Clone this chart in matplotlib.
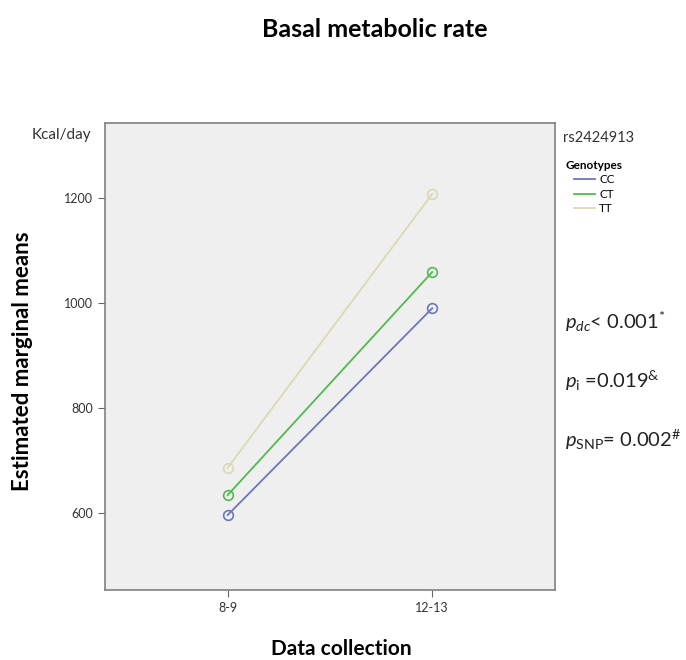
import matplotlib
matplotlib.use('Agg')
import matplotlib.pyplot as plt

# Data
periods = ['8-9', '12-13']
genotypes = ['CC', 'CT', 'TT']
bmr_cc = [596, 990]
bmr_ct = [634, 1059]
bmr_tt = [686, 1208]
colors = ['#6d76ba', '#4fbb4f', '#dcd9b4']
yticks = [600, 800, 1000, 1200]
pvals = [r'$p_{dc}$< 0.001$^{*}$', r'$p_{\mathrm{i}}$ =0.019$^{&}$', r'$p_{\mathrm{SNP}}$= 0.002$^{\#}$']

plt.rcParams['font.family'] = ['Lato', 'DejaVu Sans']
plt.rcParams['mathtext.fontset'] = 'custom'
plt.rcParams['mathtext.rm'] = 'Lato'
plt.rcParams['mathtext.it'] = 'Lato:italic'

fig = plt.figure(figsize=(6.86, 6.6), dpi=100)
ax = fig.add_axes([0.153, 0.106, 0.656, 0.7076])
ax.set_facecolor('#efefef')

x = range(len(periods))
for vals, c, g in zip([bmr_cc, bmr_ct, bmr_tt], colors, genotypes):
    ax.plot(x, vals, color=c, lw=1.3, marker='o', ms=7, mfc='none', mew=1.2, label=g)

ax.set_xlim(-0.6, 1.6)
ax.set_ylim(453, 1343)
ax.set_xticks(list(x))
ax.set_xticklabels(periods)
ax.set_yticks(yticks)
ax.tick_params(axis='both', direction='out', length=5, color='#666666',
               labelsize=9, labelcolor='#333333')
for s in ax.spines.values():
    s.set_color('#808080')
    s.set_linewidth(1.2)

ax.set_xlabel('Data collection', fontsize=15, fontweight='bold')
ax.xaxis.set_label_coords(0.525, -0.105)
ax.set_ylabel('Estimated marginal means', fontsize=16, fontweight='bold')
ax.yaxis.set_label_coords(-0.16, 0.49)
fig.text(0.547, 0.955, 'Basal metabolic rate', ha='center', va='center',
         fontsize=18, fontweight='bold')
fig.text(0.046, 0.795, 'Kcal/day', ha='left', va='center', fontsize=11, color='#333333')
fig.text(0.82, 0.791, 'rs2424913', ha='left', va='center', fontsize=10.5, color='#333333')

leg = fig.legend(loc='upper left', bbox_to_anchor=(0.818, 0.765), frameon=False,
                 title='Genotypes', fontsize=8.5, handlelength=1.8, handletextpad=0.3,
                 labelspacing=0.3, borderaxespad=0)
leg.get_title().set_fontsize(8.5)
leg.get_title().set_fontweight('bold')
for h in leg.legend_handles:
    h.set_marker('')

for i, t in enumerate(pvals):
    fig.text(0.824, 0.512 - i * 0.089, t, ha='left', va='center', fontsize=14.5, color='#222222')

fig.savefig('out.png', dpi=100)
